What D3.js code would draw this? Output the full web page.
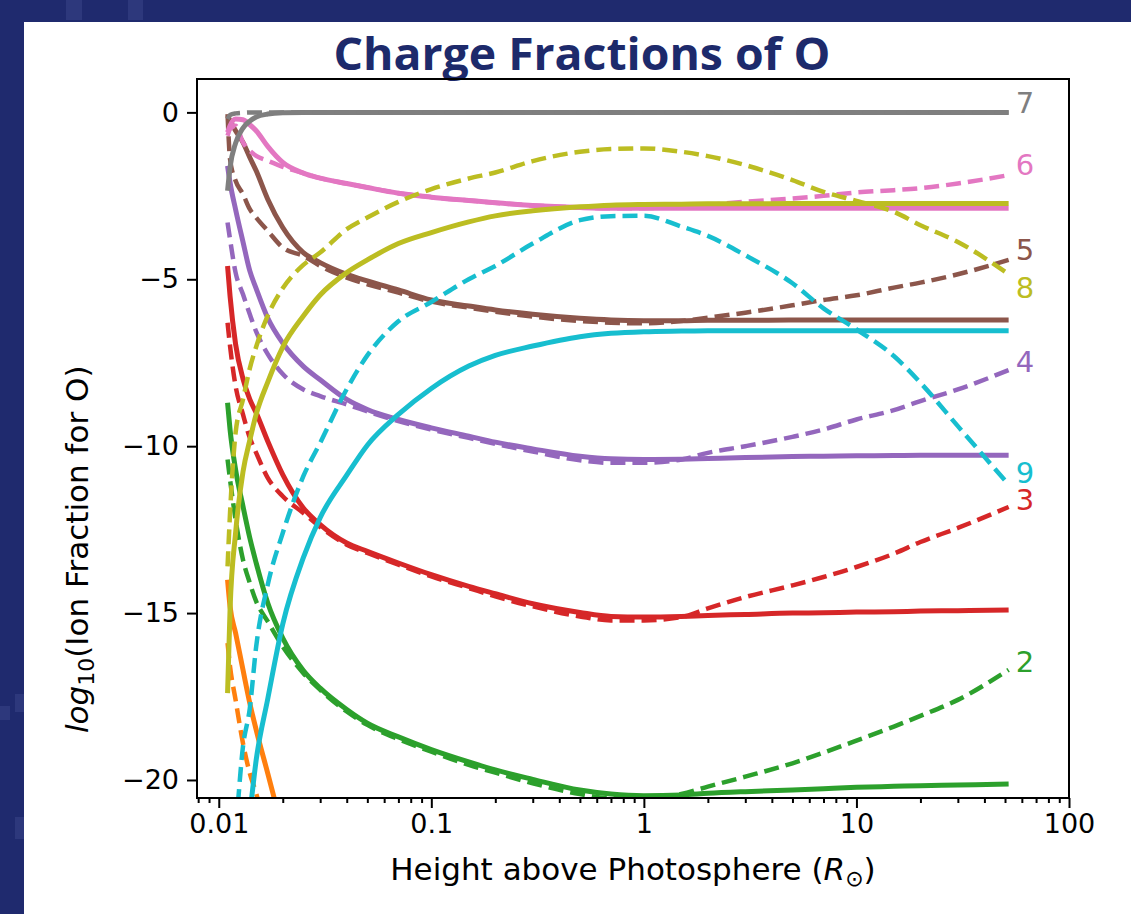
<!DOCTYPE html>
<html>
<head>
<meta charset="utf-8">
<script src="https://cdn.jsdelivr.net/npm/d3@7"></script>
<style>
body { margin: 0; background: #1f2a6e; }
</style>
</head>
<body>
<div id="chart"></div>
<script>
// heights above photosphere (R_sun), shared by all curves
var heights = [0.011, 0.0113, 0.012, 0.013, 0.014, 0.015, 0.017, 0.02, 0.025, 0.03,
  0.04, 0.05, 0.07, 0.1, 0.15, 0.2, 0.3, 0.5, 0.7, 1,
  1.5, 2, 3, 5, 7, 10, 15, 20, 30, 52];

// log10 ion fractions, solid and dashed curve for each charge state
var ion1Solid = [-14.0, -14.8, -15.6, -16.7, -17.7, -18.5, -19.8, -21.5, -23.5, -25.0,
  null, null, null, null, null, null, null, null, null, null,
  null, null, null, null, null, null, null, null, null, null];
var ion1Dashed = [-15.9, -16.6, -17.6, -18.9, -19.8, -20.4, -21.8, -23.0, -24.5, null,
  null, null, null, null, null, null, null, null, null, null,
  null, null, null, null, null, null, null, null, null, null];
var ion2Solid = [-8.7, -9.5, -10.7, -11.8, -12.75, -13.5, -14.7, -15.75, -16.72, -17.25,
  -17.89, -18.3, -18.71, -19.09, -19.46, -19.7, -19.98, -20.3, -20.42, -20.47,
  -20.45, -20.4, -20.35, -20.3, -20.26, -20.22, -20.19, -20.17, -20.15, -20.12];
var ion2Dashed = [-10.4, -11.0, -12.2, -13.4, -14.1, -14.65, -15.25, -16.0, -16.8, -17.3,
  -17.95, -18.35, -18.78, -19.15, -19.55, -19.78, -20.1, -20.42, -20.55, -20.55,
  -20.42, -20.2, -19.9, -19.5, -19.18, -18.82, -18.4, -18.08, -17.6, -16.7];
var ion3Solid = [-4.6, -5.5, -6.94, -7.98, -8.6, -9.0, -9.85, -10.85, -11.85, -12.35,
  -12.9, -13.15, -13.5, -13.85, -14.2, -14.42, -14.72, -14.98, -15.1, -15.12,
  -15.1, -15.07, -15.04, -15.0, -14.99, -14.97, -14.96, -14.94, -14.93, -14.91];
var ion3Dashed = [-6.3, -7.0, -8.2, -9.05, -9.75, -10.2, -10.95, -11.5, -12.0, -12.42,
  -12.95, -13.2, -13.55, -13.9, -14.25, -14.5, -14.8, -15.1, -15.22, -15.22,
  -15.12, -14.86, -14.52, -14.17, -13.92, -13.62, -13.22, -12.87, -12.45, -11.82];
var ion4Solid = [-1.6, -2.1, -2.91, -3.88, -4.75, -5.28, -6.16, -6.91, -7.61, -8.01,
  -8.6, -8.9, -9.2, -9.45, -9.7, -9.88, -10.08, -10.3, -10.38, -10.4,
  -10.39, -10.37, -10.34, -10.31, -10.3, -10.29, -10.28, -10.27, -10.27, -10.27];
var ion4Dashed = [-3.3, -3.8, -4.8, -5.45, -6.05, -6.57, -7.24, -7.84, -8.3, -8.5,
  -8.75, -8.96, -9.25, -9.5, -9.75, -9.93, -10.16, -10.42, -10.5, -10.5,
  -10.4, -10.2, -10.0, -9.72, -9.5, -9.2, -8.92, -8.65, -8.3, -7.72];
var ion5Solid = [-0.1, -0.25, -0.55, -0.9, -1.35, -1.75, -2.6, -3.45, -4.2, -4.5,
  -4.85, -5.05, -5.32, -5.62, -5.8, -5.92, -6.05, -6.17, -6.22, -6.24,
  -6.24, -6.23, -6.23, -6.22, -6.22, -6.22, -6.22, -6.22, -6.22, -6.22];
var ion5Dashed = [-0.05, -1.4, -2.05, -2.45, -2.9, -3.15, -3.55, -4.05, -4.3, -4.6,
  -4.95, -5.15, -5.4, -5.67, -5.85, -5.97, -6.12, -6.25, -6.3, -6.32,
  -6.25, -6.15, -6.0, -5.78, -5.62, -5.48, -5.25, -5.1, -4.85, -4.42];
var ion6Solid = [-0.6, -0.4, -0.2, -0.22, -0.37, -0.55, -1.02, -1.5, -1.82, -1.97,
  -2.13, -2.25, -2.42, -2.54, -2.64, -2.71, -2.79, -2.85, -2.87, -2.87,
  -2.87, -2.87, -2.87, -2.87, -2.87, -2.87, -2.87, -2.87, -2.87, -2.87];
var ion6Dashed = [-0.7, -0.5, -0.4, -0.9, -1.15, -1.3, -1.45, -1.63, -1.82, -1.97,
  -2.13, -2.25, -2.42, -2.54, -2.64, -2.71, -2.79, -2.85, -2.87, -2.87,
  -2.83, -2.77, -2.68, -2.58, -2.5, -2.4, -2.33, -2.27, -2.13, -1.88];
var ion7Solid = [-2.35, -1.65, -0.92, -0.47, -0.26, -0.14, -0.05, -0.01, 0, 0,
  0, 0, 0, 0, 0, 0, 0, 0, 0, 0,
  0, 0, 0, 0, 0, 0, 0, 0, 0, 0];
var ion7Dashed = [-0.2, -0.08, -0.03, -0.01, 0, 0, 0, 0, 0, 0,
  0, 0, 0, 0, 0, 0, 0, 0, 0, 0,
  0, 0, 0, 0, 0, 0, 0, 0, 0, 0];
var ion8Solid = [-17.4, -14.9, -12.6, -10.77, -9.82, -9.04, -8.08, -7.03, -6.1, -5.47,
  -4.8, -4.42, -3.93, -3.6, -3.28, -3.1, -2.95, -2.83, -2.78, -2.76,
  -2.75, -2.74, -2.74, -2.73, -2.73, -2.73, -2.73, -2.73, -2.73, -2.73];
var ion8Dashed = [-13.6, -12.0, -9.6, -8.6, -7.67, -7.02, -6.09, -5.27, -4.57, -4.2,
  -3.5, -3.15, -2.68, -2.3, -1.98, -1.8, -1.46, -1.18, -1.1, -1.08,
  -1.18, -1.31, -1.58, -2.03, -2.38, -2.65, -2.98, -3.38, -3.88, -4.85];
var ion9Solid = [-26.0, -25.0, -24.0, -22.5, -21.0, -19.4, -17.57, -15.33, -13.34, -12.14,
  -10.87, -9.97, -9.05, -8.27, -7.6, -7.28, -7.0, -6.72, -6.62, -6.57,
  -6.55, -6.54, -6.54, -6.54, -6.54, -6.54, -6.54, -6.54, -6.54, -6.54];
var ion9Dashed = [-24.0, -23.0, -21.5, -19.0, -17.85, -16.0, -14.15, -12.6, -10.9, -9.9,
  -8.29, -7.28, -6.26, -5.68, -5.0, -4.6, -3.93, -3.23, -3.11, -3.1,
  -3.42, -3.7, -4.28, -5.12, -5.87, -6.5, -7.3, -8.1, -9.4, -11.15];

// labels at the right end of the curves
var labelNames = ["2", "3", "4", "5", "6", "7", "8", "9"];
var labelValues = [-16.76, -11.9, -7.77, -4.42, -1.88, -0.03, -5.56, -11.1];

var xTicks = [0.01, 0.1, 1, 10, 100];
var xTickLabels = ["0.01", "0.1", "1", "10", "100"];
var yTicks = [0, -5, -10, -15, -20];

var colors = ["#ff7f0e", "#2ca02c", "#d62728", "#9467bd", "#8c564b",
  "#e377c2", "#7f7f7f", "#bcbd22", "#17becf"];

var series = [
  [ion1Solid, ion1Dashed], [ion2Solid, ion2Dashed], [ion3Solid, ion3Dashed],
  [ion4Solid, ion4Dashed], [ion5Solid, ion5Dashed], [ion6Solid, ion6Dashed],
  [ion7Solid, ion7Dashed], [ion8Solid, ion8Dashed], [ion9Solid, ion9Dashed]
];

var svg = d3.select("#chart")
  .append("svg")
  .attr("width", 1131)
  .attr("height", 914);

svg.append("rect")
  .attr("width", 1131).attr("height", 914)
  .attr("fill", "#1f2a6e");

// a few lighter blocks in the slide background
var patches = [[66, 0, 16, 20], [128, 0, 15, 20], [0, 706, 10, 14], [15, 694, 9, 18], [15, 817, 10, 22]];
svg.selectAll(".patch")
  .data(patches)
  .enter()
  .append("rect")
  .attr("class", "patch")
  .attr("x", function(d) { return d[0]; })
  .attr("y", function(d) { return d[1]; })
  .attr("width", function(d) { return d[2]; })
  .attr("height", function(d) { return d[3]; })
  .attr("fill", "#2d387c");

svg.append("rect")
  .attr("x", 24).attr("y", 22)
  .attr("width", 1107).attr("height", 892)
  .attr("fill", "#ffffff");

svg.append("text")
  .attr("x", 582)
  .attr("y", 70)
  .attr("text-anchor", "middle")
  .attr("font-family", "Open Sans")
  .attr("font-weight", "bold")
  .attr("font-size", 44)
  .attr("textLength", 497)
  .attr("lengthAdjust", "spacingAndGlyphs")
  .attr("fill", "#1d2a6b")
  .text("Charge Fractions of O");

var plotLeft = 197, plotRight = 1069, plotTop = 79, plotBottom = 798;

var x = d3.scaleLog()
  .domain([0.0079, 100])
  .range([plotLeft, plotRight]);

var y = d3.scaleLinear()
  .domain([-20.54, 1.0])
  .range([plotBottom, plotTop]);

svg.append("clipPath")
  .attr("id", "plotclip")
  .append("rect")
  .attr("x", plotLeft).attr("y", plotTop)
  .attr("width", plotRight - plotLeft).attr("height", plotBottom - plotTop);

var line = d3.line()
  .defined(function(d) { return d[1] !== null; })
  .curve(d3.curveMonotoneX)
  .x(function(d) { return x(d[0]); })
  .y(function(d) { return y(d[1]); });

var plot = svg.append("g").attr("clip-path", "url(#plotclip)");

series.forEach(function(pair, i) {
  var solid = heights.map(function(h, j) { return [h, pair[0][j]]; });
  var dashed = heights.map(function(h, j) { return [h, pair[1][j]]; });
  plot.append("path")
    .datum(solid)
    .attr("d", line)
    .attr("fill", "none")
    .attr("stroke", colors[i])
    .attr("stroke-width", 5);
  plot.append("path")
    .datum(dashed)
    .attr("d", line)
    .attr("fill", "none")
    .attr("stroke", colors[i])
    .attr("stroke-width", 4.5)
    .attr("stroke-dasharray", "15,7");
});

// labels for charge states 2..9
svg.selectAll(".ionlabel")
  .data(labelNames)
  .enter()
  .append("text")
  .attr("class", "ionlabel")
  .attr("x", x(heights[heights.length - 1]) + 7)
  .attr("y", function(d, i) { return y(labelValues[i]); })
  .attr("font-family", "DejaVu Sans")
  .attr("font-size", 29)
  .attr("fill", function(d) { return colors[+d - 1]; })
  .text(function(d) { return d; });

// axes
var xMinor = [];
[0.001, 0.01, 0.1, 1, 10].forEach(function(dec) {
  for (var k = 2; k <= 9; k++) {
    var v = dec * k;
    if (v >= 0.0079 && v <= 100) xMinor.push(v);
  }
});

var xAxisMinor = svg.append("g")
  .attr("transform", "translate(0," + plotBottom + ")")
  .call(d3.axisBottom(x).tickValues(xMinor).tickSize(5).tickFormat(""));

var xAxis = svg.append("g")
  .attr("transform", "translate(0," + plotBottom + ")")
  .call(d3.axisBottom(x).tickValues(xTicks).tickSize(10).tickPadding(6)
    .tickFormat(function(d, i) { return xTickLabels[i]; }));

var yAxis = svg.append("g")
  .attr("transform", "translate(" + plotLeft + ",0)")
  .call(d3.axisLeft(y).tickValues(yTicks).tickSize(10).tickPadding(8)
    .tickFormat(function(d) { return d < 0 ? "\u2212" + Math.abs(d) : d; }));

svg.selectAll(".domain").remove();
svg.selectAll(".tick line").attr("stroke", "#000").attr("stroke-width", 2);
svg.selectAll(".tick text")
  .attr("font-family", "DejaVu Sans")
  .attr("font-size", 27)
  .attr("fill", "#000");

svg.append("rect")
  .attr("x", plotLeft).attr("y", plotTop)
  .attr("width", plotRight - plotLeft).attr("height", plotBottom - plotTop)
  .attr("fill", "none")
  .attr("stroke", "#000")
  .attr("stroke-width", 2);

svg.append("text")
  .attr("x", (plotLeft + plotRight) / 2)
  .attr("y", 880)
  .attr("text-anchor", "middle")
  .attr("font-family", "DejaVu Sans")
  .attr("font-size", 31)
  .attr("fill", "#000")
  .call(function(t) {
    t.append("tspan").text("Height above Photosphere (");
    t.append("tspan").attr("font-style", "italic").text("R");
    t.append("tspan").attr("font-size", 22).attr("dy", 6).text("\u2299");
    t.append("tspan").attr("dy", -6).text(")");
  });

svg.append("text")
  .attr("transform", "rotate(-90)")
  .attr("x", -733)
  .attr("y", 88)
  .attr("text-anchor", "start")
  .attr("font-family", "DejaVu Sans")
  .attr("font-size", 31)
  .attr("fill", "#000")
  .call(function(t) {
    t.append("tspan").attr("font-style", "italic").text("log");
    t.append("tspan").attr("font-size", 22).attr("dy", 6).text("10");
    t.append("tspan").attr("dy", -6).text("(Ion Fraction for O)");
  });
</script>
</body>
</html>
